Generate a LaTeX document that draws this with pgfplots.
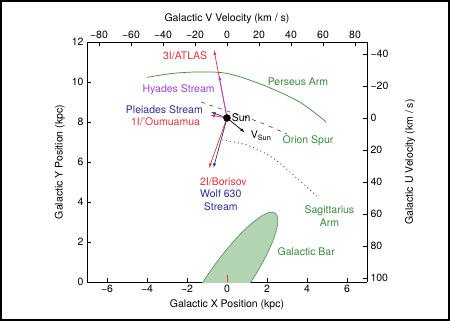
\documentclass[border=0pt]{standalone}
\usepackage{fontspec}
\setmainfont{TeX Gyre Heros}
\usepackage{pgfplots}
\pgfplotsset{compat=1.18}
\usetikzlibrary{calc,arrows.meta}
\definecolor{cred}{HTML}{E5323C}
\definecolor{cnavy}{HTML}{2E2E96}
\definecolor{cpurp}{HTML}{A33FD6}
\definecolor{cgreen}{HTML}{3A8A3A}
\definecolor{barfill}{HTML}{B3D4B3}
\definecolor{baredge}{HTML}{4F8A55}
\begin{document}
\begin{tikzpicture}[font=\fontsize{10.5}{12.5}\selectfont]
\pgfplotsset{every axis/.append style={
  scale only axis, width=280pt, height=240pt,
  tick align=inside, major tick length=4pt,
  tick style={black, line width=0.5pt},
  axis line style={line width=0.6pt},
  label style={font=\fontsize{10.5}{12.5}\selectfont},
  tick label style={font=\fontsize{10.5}{12.5}\selectfont},
}}
\begin{axis}[name=main,
  xmin=-7, xmax=7, ymin=0, ymax=12,
  axis x line*=bottom, axis y line*=left,
  xtick={-6,-4,-2,0,2,4,6},
  xticklabels={−6,−4,−2,0,2,4,6},
  ytick={0,2,4,6,8,10,12},
  yticklabels={0,2,4,6,8,10,12},
  xlabel={Galactic X Position (kpc)},
  ylabel={Galactic Y Position (kpc)},
  ]
% Galactic bar
\addplot[fill=barfill, draw=baredge, line width=0.6pt, smooth] coordinates {
(0.819,-0.574) (1.414,0.336) (1.914,1.224) (2.282,2.027) (2.496,2.693)
(2.539,2.959) (2.539,3.175) (2.495,3.337) (2.409,3.441) (2.281,3.487) (2.115,3.472)
(1.912,3.399) (1.677,3.267) (1.124,2.839) (0.495,2.218) (-0.168,1.445)
(-0.819,0.574) (-1.414,-0.336) (-1.914,-1.224)} -- cycle;
% Perseus arm
\addplot[cgreen, line width=0.7pt, smooth] coordinates {
(-4.0,10.23) (-2.8,10.42) (-1.5,10.5) (0,10.43) (1.8,9.85) (3.63,9.0) (4.96,8.0)};
% Orion spur
\addplot[black!75, line width=0.6pt, dash pattern=on 4pt off 5pt, smooth] coordinates {
(-1.3,9.0) (0,8.55) (1.6,8.0) (3.0,7.4)};
% Sagittarius arm
\addplot[black!60!cgreen, line width=0.7pt, dash pattern=on 1pt off 3pt, smooth] coordinates {
(-0.25,7.1) (1,6.85) (2.3,6.2) (3.6,5.1) (4.6,4.2)};
% arrows
\addplot[cred, line width=0.7pt, -{Latex[length=5pt,width=3pt]}] coordinates {(0,8.2) (-0.65,11.6)};
\addplot[cpurp, line width=0.7pt, -{Latex[length=5pt,width=3pt]}] coordinates {(0,8.2) (-0.4,10.35)};
\addplot[cnavy, line width=0.7pt, -{Latex[length=5pt,width=3pt]}] coordinates {(0,8.2) (-0.81,8.5)};
\addplot[cred, line width=0.7pt, -{Latex[length=5pt,width=3pt]}] coordinates {(0,8.2) (-0.85,8.35)};
\addplot[cred, line width=0.7pt, -{Latex[length=5pt,width=3pt]}] coordinates {(0,8.2) (-0.9,5.69)};
\addplot[cnavy, line width=0.7pt, -{Latex[length=5pt,width=3pt]}] coordinates {(0,8.2) (-0.68,5.69)};
\addplot[black, line width=0.7pt, -{Latex[length=5pt,width=3pt]}] coordinates {(0,8.2) (0.9,7.47)};
% sun
\addplot[black, only marks, mark=*, mark size=3.5pt] coordinates {(0,8.2)};
% galactic centre tick
\addplot[cred, line width=0.6pt] coordinates {(0,0) (0,0.35)};
% labels
\node[cred] at (axis cs:-2.09,11.3) {3I/ATLAS};
\node[cpurp] at (axis cs:-2.42,9.6) {Hyades Stream};
\node[cnavy, anchor=east, inner sep=0pt] at (axis cs:-1.2,8.6) {Pleiades Stream};
\node[cred, anchor=east, inner sep=0pt] at (axis cs:-1.34,8.0) {1I/'Oumuamua};
\node[black, anchor=west, inner sep=0pt] at (axis cs:0.23,8.23) {Sun};
\node[black, anchor=west, inner sep=0pt] at (axis cs:1.18,7.3) {V\textsubscript{Sun}};
\node[cgreen] at (axis cs:3.55,10.0) {Perseus Arm};
\node[cgreen] at (axis cs:4.05,7.05) {Orion Spur};
\node[cgreen, align=center, inner sep=0pt] at (axis cs:5.12,3.3) {Sagittarius\\Arm};
\node[cred] at (axis cs:-0.18,5.0) {2I/Borisov};
\node[cnavy, align=center, inner sep=0pt] at (axis cs:-0.31,4.1) {Wolf 630\\Stream};
\node[cgreen] at (axis cs:3.96,1.52) {Galactic Bar};
\end{axis}
\begin{axis}[
  xmin=-87.5, xmax=87.5, ymin=-47.5, ymax=102.5, y dir=reverse,
  axis x line*=top, axis y line*=right,
  xtick={-80,-60,-40,-20,0,20,40,60,80},
  xticklabels={−80,−60,−40,−20,0,20,40,60,80},
  ytick={-40,-20,0,20,40,60,80,100},
  yticklabels={−40,−20,0,20,40,60,80,100},
  xlabel={Galactic V Velocity (km / s)},
  every axis y label/.style={at={(axis description cs:1.154,0.5)}, rotate=90, anchor=center},
  ylabel={Galactic U Velocity (km / s)},
  ]
\end{axis}
\pgfresetboundingbox
\path ($(main.south west)+(-87pt,-39pt)$) rectangle ($(main.north east)+(83pt,42pt)$);
\draw[line width=2pt] ($(main.south west)+(-86pt,-38pt)$) rectangle ($(main.north east)+(82pt,41pt)$);
\end{tikzpicture}
\end{document}
